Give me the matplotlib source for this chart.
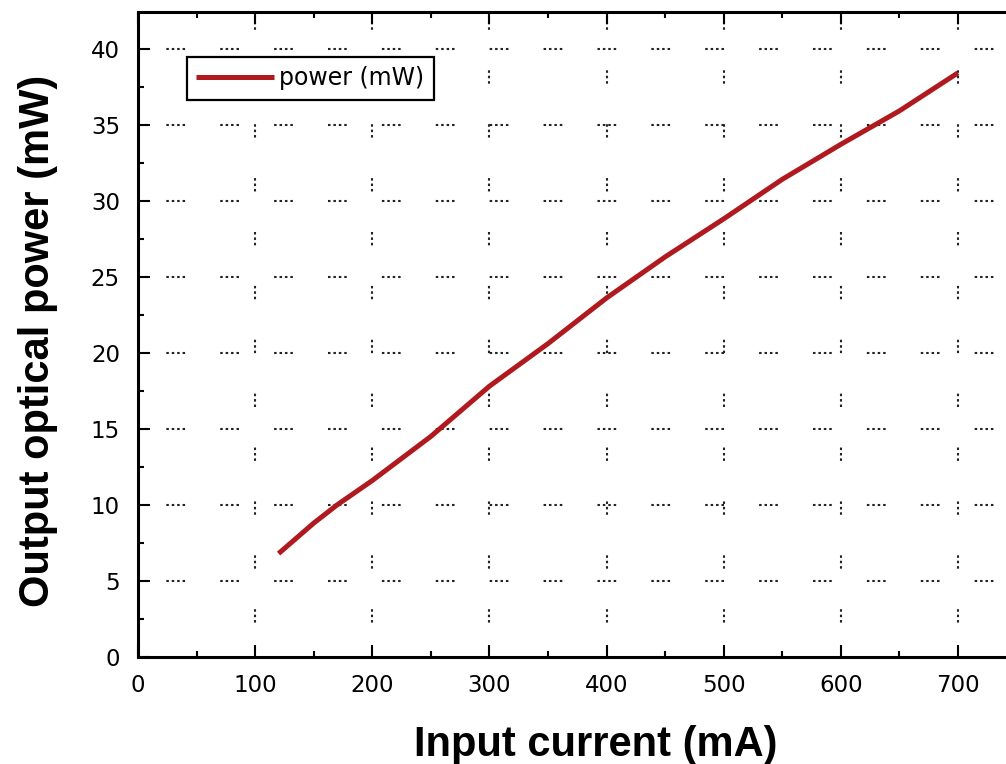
import matplotlib
matplotlib.use("Agg")
import matplotlib.pyplot as plt
from matplotlib.ticker import MultipleLocator

# Data
current_mA = [120, 150, 170, 200, 250, 300, 350, 400, 450, 500, 550, 600, 650, 700]
power_mW = [6.8, 8.8, 10.0, 11.6, 14.5, 17.8, 20.6, 23.6, 26.3, 28.8, 31.4, 33.7, 35.9, 38.4]
series_label = "power (mW)"
x_label = "Input current (mA)"
y_label = "Output optical power (mW)"
x_ticks = [0, 100, 200, 300, 400, 500, 600, 700]
y_ticks = [0, 5, 10, 15, 20, 25, 30, 35, 40]

plt.rcParams['lines.scale_dashes'] = False

W, H = 1006, 764
fig = plt.figure(figsize=(W / 100, H / 100), dpi=100)
left_px, right_px, bottom_px, top_px = 138, 1006, 657, 12
ax = fig.add_axes([left_px / W, (H - bottom_px) / H,
                   (right_px - left_px) / W, (bottom_px - top_px) / H])

ax.plot(current_mA, power_mW, color="#b01a1f", lw=3.6, solid_capstyle="butt",
        label=series_label, zorder=3)

ax.set_xlim(0, 741)
ax.set_ylim(0, 42.4)
ax.set_xticks(x_ticks)
ax.set_yticks(y_ticks)
ax.xaxis.set_minor_locator(MultipleLocator(50))
ax.yaxis.set_minor_locator(MultipleLocator(2.5))

tick_font = dict(family="DejaVu Sans", size=16.5)
ax.set_xticklabels([str(t) for t in x_ticks], **tick_font)
ax.set_yticklabels([str(t) for t in y_ticks], **tick_font)

ax.tick_params(which="both", direction="in", top=True, right=False, width=1.5, color="black")
ax.tick_params(which="major", length=8.5)
ax.tick_params(which="minor", length=4.3)
ax.tick_params(axis="y", which="major", pad=13)
ax.tick_params(axis="x", which="major", pad=12)

for side in ["left", "bottom", "top"]:
    ax.spines[side].set_linewidth(2.2)
ax.spines["right"].set_visible(False)

# Sparse dotted grid like the original
on, off, longoff = 1.8, 2.1, 25.3
hpattern = (on, off, on, off, on, off, on, longoff)
vpattern = (on, off, on, off, on, longoff + off + on)
for yv in y_ticks[1:]:
    ax.axhline(yv, color="#222222", lw=1.5, linestyle=(18.4, hpattern), zorder=1)
for xv in x_ticks[1:]:
    ax.axvline(xv, color="#222222", lw=1.5, linestyle=(14.0, vpattern), zorder=1)

ax.set_xlabel(x_label, fontsize=30, fontweight="bold", family="Liberation Sans")
ax.set_ylabel(y_label, fontsize=30, fontweight="bold", family="Liberation Sans")
ax.xaxis.set_label_coords((596 - left_px) / (right_px - left_px),
                          (bottom_px - 745) / (bottom_px - top_px))
ax.xaxis.label.set_va("center")
ax.yaxis.set_label_coords((38 - left_px) / (right_px - left_px),
                          (bottom_px - 341) / (bottom_px - top_px))
ax.yaxis.label.set_va("center")

leg = ax.legend(loc="upper left",
                bbox_to_anchor=((187 - left_px) / (right_px - left_px),
                                (bottom_px - 57) / (bottom_px - top_px)),
                prop=dict(family="DejaVu Sans", size=17),
                handlelength=3.3, handletextpad=0.2, borderpad=0.4,
                borderaxespad=0, fancybox=False, framealpha=1, edgecolor="black")
leg.get_frame().set_linewidth(1.6)

fig.savefig("out.png", dpi=100)
